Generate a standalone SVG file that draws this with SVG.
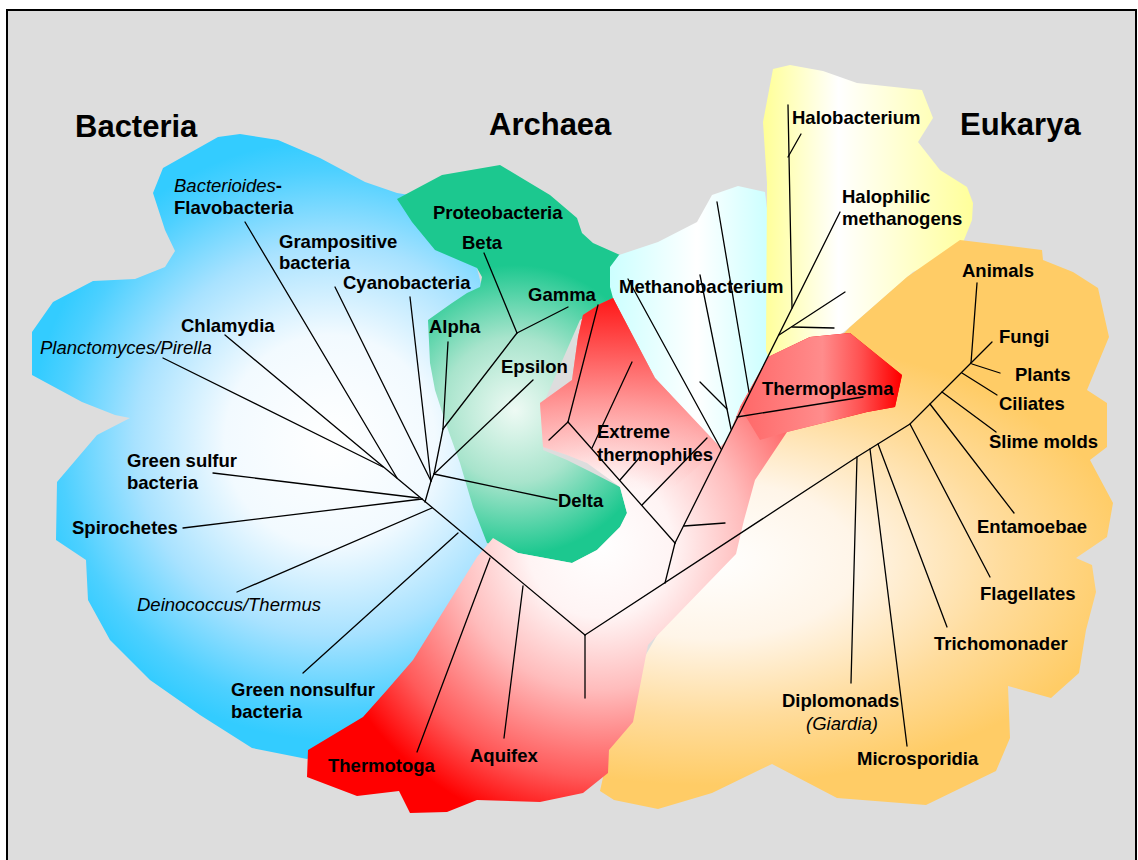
<svg xmlns="http://www.w3.org/2000/svg" width="1138" height="860" viewBox="0 0 1138 860">
<style>
.lbl{font-family:"Liberation Sans",Arial,sans-serif;font-size:18.5px;font-weight:bold;fill:#000}
.it{font-weight:normal;font-style:italic}
.ttl{font-family:"Liberation Sans",Arial,sans-serif;font-size:31px;font-weight:bold;fill:#000}
.br{stroke:#000;stroke-width:1.3;fill:none;stroke-linecap:round}
</style>
<defs>
<radialGradient id="gBlue" gradientUnits="userSpaceOnUse" cx="330" cy="440" r="300">
<stop offset="0" stop-color="#ffffff"/><stop offset="0.35" stop-color="#f2faff"/><stop offset="0.65" stop-color="#a8e2ff"/><stop offset="0.9" stop-color="#4dd0ff"/><stop offset="1" stop-color="#33ccff"/>
</radialGradient>
<radialGradient id="gGreen" gradientUnits="userSpaceOnUse" cx="515" cy="410" r="145">
<stop offset="0" stop-color="#eefaf4"/><stop offset="0.5" stop-color="#a8e4cc"/><stop offset="1" stop-color="#1cc88f"/>
</radialGradient>
<radialGradient id="gPink" gradientUnits="userSpaceOnUse" cx="600" cy="545" r="290">
<stop offset="0" stop-color="#ffffff"/><stop offset="0.25" stop-color="#fff4f4"/><stop offset="0.5" stop-color="#ffbcbc"/><stop offset="0.8" stop-color="#ff5a5a"/><stop offset="1" stop-color="#ff0000"/>
</radialGradient>
<linearGradient id="gExt" gradientUnits="userSpaceOnUse" x1="0" y1="300" x2="0" y2="490">
<stop offset="0" stop-color="#ff1a1a" stop-opacity="1"/><stop offset="0.45" stop-color="#ff7070" stop-opacity="0.7"/><stop offset="1" stop-color="#ffc0c0" stop-opacity="0"/>
</linearGradient>
<linearGradient id="gTpl" gradientUnits="userSpaceOnUse" x1="745" y1="0" x2="900" y2="0">
<stop offset="0" stop-color="#ff6a6a"/><stop offset="0.5" stop-color="#ff8c8c"/><stop offset="0.75" stop-color="#ff5050"/><stop offset="1" stop-color="#ff0000"/>
</linearGradient>
<linearGradient id="gCyan" gradientUnits="userSpaceOnUse" x1="610" y1="0" x2="768" y2="0">
<stop offset="0" stop-color="#ccffff"/><stop offset="0.55" stop-color="#ffffff"/><stop offset="1" stop-color="#ccffff"/>
</linearGradient>
<linearGradient id="gYel" gradientUnits="userSpaceOnUse" x1="765" y1="0" x2="975" y2="0">
<stop offset="0" stop-color="#ffff99"/><stop offset="0.35" stop-color="#ffffff"/><stop offset="1" stop-color="#ffff99"/>
</linearGradient>
<radialGradient id="gOra" gradientUnits="userSpaceOnUse" cx="0" cy="0" r="1" gradientTransform="translate(710 560) scale(420 225)">
<stop offset="0" stop-color="#ffffff"/><stop offset="0.35" stop-color="#fff5e8"/><stop offset="0.7" stop-color="#ffdc9c"/><stop offset="1" stop-color="#ffcc66"/>
</radialGradient>
</defs>
<rect x="0" y="0" width="1138" height="860" fill="#ffffff"/>
<rect x="7" y="10" width="1129" height="880" fill="#dddddd" stroke="#000" stroke-width="2"/>

<g id="regions">
<polygon id="bacteria-area" fill="url(#gBlue)" points="163,168 218,137 240,134 278,140 320,158 365,182 397,193 440,200 475,260 485,300 470,400 487,545 450,620 380,720 307,759 252,748 200,715 150,680 110,640 88,600 87,580 86,560 56,540 57,482 97,435 130,418 115,415 82,402 32,375 32,332 53,302 93,281 135,279 165,267 175,251 165,230 153,193"/>
<polygon id="proteo-area" fill="url(#gGreen)" points="397,199 442,175 500,165 520,177 550,195 577,218 582,233 593,243 620,255 630,270 615,300 580,320 545,400 543,450 567,460 593,473 620,487 627,513 620,527 597,550 572,563 518,553 487,543 473,507 460,463 447,427 435,390 430,363 428,320 452,303 467,293 480,287 482,277 477,268 435,250 412,222"/>
<polygon id="methano-area" fill="url(#gCyan)" points="610,267 619,255 658,242 697,222 712,195 738,186 765,192 772,250 772,360 745,420 722,452 655,378 613,298 610,287"/>
<polygon id="halo-area" fill="url(#gYel)" points="773,69 790,65 823,71 857,83 922,90 933,118 918,142 940,170 967,187 973,203 972,220 960,250 913,272 850,327 840,335 810,337 768,357 766,350 767,183 763,122"/>
<polygon id="eukarya-area" fill="url(#gOra)" points="850,327 907,277 960,240 1042,250 1043,260 1073,272 1098,288 1109,337 1087,390 1107,403 1107,447 1090,460 1113,503 1107,537 1076,558 1092,565 1096,592 1086,630 1079,673 1051,698 1008,686 1010,738 996,771 926,805 837,798 772,764 712,793 658,809 614,800 600,791 620,700 700,560 760,440 800,380"/>
<polygon id="thermo-area" fill="url(#gPink)" points="600,304 583,315 578,337 572,380 540,403 543,447 567,455 587,463 620,487 627,513 620,527 597,550 572,563 518,553 493,538 477,557 413,660 387,690 363,717 308,750 307,777 357,796 399,791 410,813 447,812 477,800 540,802 583,793 608,773 609,750 633,722 648,645 736,554 744,520 755,480 787,432 867,412 895,407 902,375 850,333 810,337 768,357 740,407 727,440 720,447 655,378 613,298"/>
<polygon id="extreme-area" fill="url(#gExt)" points="600,304 583,315 578,337 572,380 540,403 543,447 567,455 587,463 620,487 660,500 720,447 655,378 613,298"/>
<polygon id="thermoplasma-area" fill="url(#gTpl)" points="740,407 768,357 810,337 850,333 902,375 895,407 867,412 787,432 760,440"/>
</g>

<g id="connectors" class="br">
<line x1="245" y1="222" x2="397" y2="478"/>
<line x1="335" y1="287" x2="431" y2="481"/>
<line x1="410" y1="297" x2="431" y2="481"/>
<line x1="225" y1="335" x2="422" y2="499"/>
<line x1="163" y1="358" x2="383" y2="467"/>
<line x1="213" y1="473" x2="419" y2="498"/>
<line x1="183" y1="528" x2="422" y2="499"/>
<line x1="237" y1="592" x2="432" y2="508"/>
<line x1="303" y1="673" x2="458" y2="533"/>
<line x1="422" y1="499" x2="585" y2="635"/>
<line x1="431" y1="481" x2="425" y2="502"/>
<line x1="434" y1="474" x2="431" y2="481"/>
<line x1="448" y1="342" x2="443" y2="429"/>
<line x1="517" y1="333" x2="443" y2="429"/>
<line x1="443" y1="429" x2="434" y2="474"/>
<line x1="484" y1="253" x2="517" y2="333"/>
<line x1="568" y1="307" x2="517" y2="333"/>
<line x1="533" y1="380" x2="434" y2="474"/>
<line x1="434" y1="474" x2="557" y2="500"/>
<line x1="490" y1="558" x2="417" y2="752"/>
<line x1="523" y1="586" x2="504" y2="738"/>
<line x1="585" y1="635" x2="585" y2="698"/>
<line x1="665" y1="583" x2="675" y2="543"/>
<line x1="675" y1="543" x2="840" y2="212"/>
<line x1="675" y1="543" x2="568" y2="422"/>
<line x1="568" y1="422" x2="549" y2="440"/>
<line x1="568" y1="422" x2="598" y2="305"/>
<line x1="592" y1="448" x2="632" y2="362"/>
<line x1="620" y1="480" x2="640" y2="457"/>
<line x1="642" y1="505" x2="707" y2="438"/>
<line x1="684" y1="526" x2="725" y2="523"/>
<line x1="628" y1="279" x2="721" y2="449"/>
<line x1="700" y1="275" x2="731" y2="429"/>
<line x1="700" y1="382" x2="727" y2="409"/>
<line x1="717" y1="202" x2="749" y2="392"/>
<line x1="737" y1="417" x2="863" y2="397"/>
<line x1="788" y1="105" x2="792" y2="308"/>
<line x1="788" y1="157" x2="801" y2="134"/>
<line x1="845" y1="292" x2="779" y2="335"/>
<line x1="792" y1="327" x2="834" y2="328"/>
<polyline points="585,635 857,457 910,424 971,363"/>
<line x1="977" y1="283" x2="971" y2="363"/>
<line x1="992" y1="342" x2="971" y2="363"/>
<line x1="1000" y1="373" x2="972" y2="364"/>
<line x1="997" y1="395" x2="962" y2="373"/>
<line x1="996" y1="432" x2="942" y2="392"/>
<line x1="1014" y1="513" x2="930" y2="404"/>
<line x1="990" y1="577" x2="910" y2="424"/>
<line x1="947" y1="627" x2="878" y2="444"/>
<line x1="907" y1="746" x2="870" y2="449"/>
<line x1="851" y1="683" x2="857" y2="457"/>
</g>

<g id="titles">
<text id="t-bacteria" class="ttl" x="75" y="137">Bacteria</text>
<text id="t-archaea" class="ttl" x="489" y="135">Archaea</text>
<text id="t-eukarya" class="ttl" x="960" y="135">Eukarya</text>
</g>

<g id="n-flavo"><text class="lbl" x="174" y="192"><tspan class="it">Bacterioides</tspan>-</text><text class="lbl" x="174" y="214">Flavobacteria</text></g>
<g id="n-gram"><text class="lbl" x="279" y="248">Grampositive</text><text class="lbl" x="279" y="269">bacteria</text></g>
<g id="n-cyano"><text class="lbl" x="343" y="289">Cyanobacteria</text></g>
<g id="n-chlamydia"><text class="lbl" x="181" y="332">Chlamydia</text></g>
<g id="n-plancto"><text class="lbl it" x="40" y="354">Planctomyces/Pirella</text></g>
<g id="n-greensulfur"><text class="lbl" x="127" y="467">Green sulfur</text><text class="lbl" x="127" y="489">bacteria</text></g>
<g id="n-spiro"><text class="lbl" x="72" y="534">Spirochetes</text></g>
<g id="n-deino"><text class="lbl it" x="137" y="611">Deinococcus/Thermus</text></g>
<g id="n-greennon"><text class="lbl" x="231" y="696">Green nonsulfur</text><text class="lbl" x="231" y="718">bacteria</text></g>
<g id="n-thermotoga"><text class="lbl" x="328" y="772">Thermotoga</text></g>
<g id="n-aquifex"><text class="lbl" x="470" y="762">Aquifex</text></g>
<g id="n-proteo"><text class="lbl" x="433" y="219">Proteobacteria</text></g>
<g id="n-beta"><text class="lbl" x="462" y="249">Beta</text></g>
<g id="n-gamma"><text class="lbl" x="528" y="301">Gamma</text></g>
<g id="n-alpha"><text class="lbl" x="429" y="333">Alpha</text></g>
<g id="n-epsilon"><text class="lbl" x="501" y="373">Epsilon</text></g>
<g id="n-delta"><text class="lbl" x="558" y="507">Delta</text></g>
<g id="n-methano"><text class="lbl" x="619" y="293">Methanobacterium</text></g>
<g id="n-extreme"><text class="lbl" x="597" y="438">Extreme</text><text class="lbl" x="597" y="461">thermophiles</text></g>
<g id="n-thermoplasma"><text class="lbl" x="762" y="395">Thermoplasma</text></g>
<g id="n-halobact"><text class="lbl" x="792" y="124">Halobacterium</text></g>
<g id="n-halophilic"><text class="lbl" x="842" y="203">Halophilic</text><text class="lbl" x="842" y="225">methanogens</text></g>
<g id="n-animals"><text class="lbl" x="962" y="277">Animals</text></g>
<g id="n-fungi"><text class="lbl" x="999" y="343">Fungi</text></g>
<g id="n-plants"><text class="lbl" x="1015" y="381">Plants</text></g>
<g id="n-ciliates"><text class="lbl" x="999" y="410">Ciliates</text></g>
<g id="n-slime"><text class="lbl" x="989" y="448">Slime molds</text></g>
<g id="n-entamoebae"><text class="lbl" x="977" y="533">Entamoebae</text></g>
<g id="n-flagellates"><text class="lbl" x="980" y="600">Flagellates</text></g>
<g id="n-tricho"><text class="lbl" x="934" y="650">Trichomonader</text></g>
<g id="n-diplo"><text class="lbl" x="782" y="707">Diplomonads</text><text class="lbl it" x="806" y="730">(Giardia)</text></g>
<g id="n-micro"><text class="lbl" x="857" y="765">Microsporidia</text></g>
</svg>
